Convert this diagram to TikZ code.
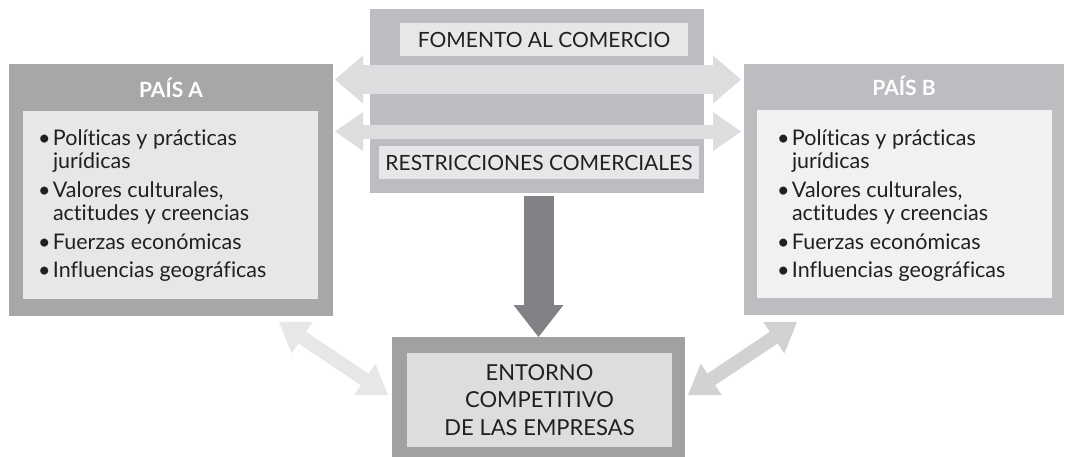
\documentclass[tikz,border=0pt]{standalone}
\usepackage{fontspec}
\setmainfont{Lato}[Ligatures=NoCommon]
\usetikzlibrary{positioning,calc,arrows.meta}

\definecolor{grisA}{HTML}{A6A7A9}
\definecolor{grisB}{HTML}{BCBDC0}
\definecolor{claroA}{HTML}{E6E7E8}
\definecolor{claroB}{HTML}{F1F1F2}
\definecolor{grisE}{HTML}{A0A1A3}
\definecolor{claroE}{HTML}{DCDDDE}
\definecolor{oscuro}{HTML}{808285}
\definecolor{diagB}{HTML}{D1D2D4}
\definecolor{texto}{HTML}{231F20}

% bullet list used in both country boxes
\newcommand{\factores}{%
  \begin{tabular}[t]{@{}p{15pt}@{}l@{}}
    \textbullet & Políticas y prácticas\\
                & jurídicas\\[5pt]
    \textbullet & Valores culturales,\\
                & actitudes y creencias\\[5pt]
    \textbullet & Fuerzas económicas\\[5pt]
    \textbullet & Influencias geográficas
  \end{tabular}}

\begin{document}
\begin{tikzpicture}[
    x=1pt, y=-1pt,
    every node/.style={inner sep=0pt, outer sep=0pt, text=texto},
    marco/.style={rectangle, fill=#1},
    titulo/.style={anchor=base, text=white, font=\fontsize{21}{24}\selectfont\bfseries},
    lista/.style={anchor=base west, font=\fontsize{21.5}{23.5}\selectfont},
    etiqueta/.style={rectangle, fill=claroA, minimum height=33pt, font=\fontsize{21}{24}\selectfont},
    flechaAncha/.style={line width=29pt, color=claroE,
        {Triangle[length=28pt 0 0, width=48pt 0 0, line width=0pt 0 0]}-{Triangle[length=28pt 0 0, width=48pt 0 0, line width=0pt 0 0]}},
    flechaFina/.style={line width=14pt, color=claroE,
        {Triangle[length=28pt 0 0, width=39pt 0 0, line width=0pt 0 0]}-{Triangle[length=28pt 0 0, width=39pt 0 0, line width=0pt 0 0]}},
    flechaDiag/.style={line width=14pt, color=#1,
        {Triangle[length=28pt 0 0, width=38pt 0 0, line width=0pt 0 0]}-{Triangle[length=28pt 0 0, width=38pt 0 0, line width=0pt 0 0]}},
    flechaBaja/.style={line width=30pt, color=oscuro,
        -{Triangle[length=32pt 0 0, width=50pt 0 0, line width=0pt 0 0]}}
]
\useasboundingbox (0,0) rectangle (1065,456);

% Pais A (left)
\node[marco=grisA, minimum width=324pt, minimum height=252pt] (paisA) at (171,190) {};
\node[titulo] (tituloA) at ($(paisA.north)+(0,33)$) {PAÍS A};
\node[marco=claroA, minimum width=295pt, minimum height=188pt, anchor=north west] (fondoA) at ($(paisA.north west)+(14,47)$) {};
\node[lista] (listaA) at ($(fondoA.north west)+(15,34)$) {\factores};

% Pais B (right)
\node[marco=grisB, minimum width=320pt, minimum height=251pt] (paisB) at (904,189.5) {};
\node[titulo] (tituloB) at ($(paisB.north)+(0,31)$) {PAÍS B};
\node[marco=claroB, minimum width=295pt, minimum height=188pt, anchor=north west] (fondoB) at ($(paisB.north west)+(13,46)$) {};
\node[lista] (listaB) at ($(fondoB.north west)+(20,35)$) {\factores};

% Comercio (centre)
\node[marco=grisB, minimum width=334pt, minimum height=184pt] (comercio) at (537,101) {};
\coordinate (filaA) at (0,79.5);
\coordinate (filaB) at (0,131.5);
\draw[flechaAncha, shorten <=2pt, shorten >=3pt] (paisA.east |- filaA) -- (paisB.west |- filaA);
\draw[flechaFina, shorten <=2pt, shorten >=3pt] (paisA.east |- filaB) -- (paisB.west |- filaB);
\node[etiqueta, minimum width=288pt] (fomento) at (544,39.5) {FOMENTO AL COMERCIO};
\node[etiqueta, minimum width=320pt] (restricciones) at (539,162.5) {RESTRICCIONES COMERCIALES};

% Entorno (bottom)
\node[marco=grisE, minimum width=293pt, minimum height=124pt] (entorno) at (538.5,399) {};
\node[marco=claroE, minimum width=265pt, minimum height=94pt, align=center,
      font=\fontsize{22}{27.5}\selectfont] (entornoint) at (539.5,400)
      {ENTORNO\\COMPETITIVO\\DE LAS EMPRESAS};

% Connectors
\draw[flechaBaja, shorten <=3pt] (comercio.south -| entorno.north) -- (entorno.north);
\draw[flechaDiag=claroA] ([xshift=-54pt,yshift=-6pt]paisA.south east) -- ([xshift=-4pt,yshift=4pt]entorno.west);
\draw[flechaDiag=diagB] ([xshift=53pt,yshift=-7pt]paisB.south west) -- ([xshift=3pt,yshift=4pt]entorno.east);

\end{tikzpicture}
\end{document}
